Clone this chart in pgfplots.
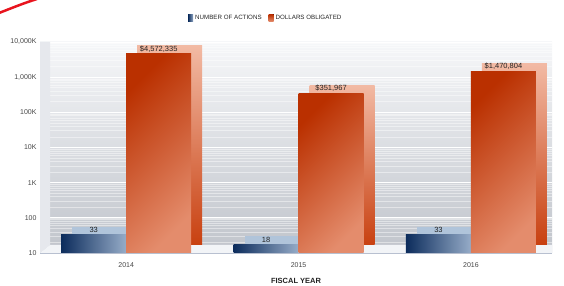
\documentclass[border=0pt]{standalone}
\usepackage{fontspec}
\setmainfont{Liberation Sans}
\usepackage{pgfplots}
\pgfplotsset{compat=1.18}
\definecolor{navy}{RGB}{12,44,92}
\definecolor{navyl}{RGB}{150,172,200}
\definecolor{navytop}{RGB}{176,196,218}
\definecolor{ordark}{RGB}{186,48,0}
\definecolor{orlight}{RGB}{228,140,108}
\definecolor{ortop}{RGB}{242,186,164}
\definecolor{orside}{RGB}{200,64,16}
\definecolor{wallt}{RGB}{246,247,249}
\definecolor{wallm}{RGB}{218,221,226}
\definecolor{wallb}{RGB}{192,196,203}
\definecolor{floorc}{RGB}{242,244,247}
\definecolor{leftw}{RGB}{230,232,237}
\definecolor{axl}{RGB}{184,192,208}
\definecolor{txt}{RGB}{70,70,70}
\definecolor{valtxt}{RGB}{35,35,35}
\definecolor{arcred}{RGB}{232,20,30}
\pgfplotsset{
  depthb/.style={ybar, bar width=0.377, bar shift=-0.1885, draw=none, fill=navytop, xshift=11pt, yshift=8pt, forget plot},
  deptho/.style={ybar, bar width=0.377, bar shift=0.1885, draw=none, top color=ortop, bottom color=orside, xshift=11pt, yshift=8pt, forget plot},
  frontb/.style={ybar, bar width=0.377, bar shift=-0.1885, draw=none, left color=navy, right color=navyl,
    legend image code/.code={\fill[left color=navy, right color=navyl] (0pt,-3.5pt) rectangle (5pt,3.5pt);}},
  fronto/.style={ybar, bar width=0.377, bar shift=0.1885, draw=none, top color=ordark, bottom color=orlight, shading angle=45,
    legend image code/.code={\fill[top color=ordark, bottom color=orlight] (0pt,-3.5pt) rectangle (5pt,3.5pt);}},
}
\begin{document}
\begin{tikzpicture}
\path[use as bounding box] (0,0) rectangle (564pt,286pt);
\draw[arcred, line width=2.5pt] (-1pt,273pt) .. controls (12pt,278pt) and (24pt,283pt) .. (37pt,287pt);
\begin{axis}[
  at={(40pt,33pt)}, anchor=south west,
  scale only axis, width=512pt, height=211pt,
  ymode=log, ymin=10, ymax=1e7, log origin=infty,
  xmin=-0.5, xmax=2.47,
  xtick={0,1,2}, xticklabels={2014,2015,2016},
  ytick={10,100,1000,10000,100000,1000000,10000000},
  yticklabels={10,100,1K,10K,100K,{1,000K},{10,000K}},
  major tick length=0pt, minor tick length=0pt,
  axis x line*=bottom, axis y line*=left,
  axis line style={axl, line width=0.8pt},
  axis background/.style={top color=wallt, middle color=wallm, bottom color=wallb},
  ymajorgrids, yminorgrids,
  major grid style={white, line width=0.9pt},
  minor grid style={white, opacity=0.45, line width=0.5pt},
  xticklabel style={font=\fontsize{7}{8}\selectfont, text=txt, yshift=-6pt},
  yticklabel style={font=\fontsize{7}{8}\selectfont, text=txt},
  xlabel={FISCAL YEAR},
  xlabel style={font=\bfseries\fontsize{7.5}{9}\selectfont, text=valtxt, at={(axis description cs:0.5,0)}, anchor=center, yshift=-28pt},
  legend style={at={(axis description cs:0.441,1)}, anchor=center, yshift=24pt, draw=none, fill=none,
    legend columns=2, font=\fontsize{6.2}{7}\selectfont, text=valtxt,
    /tikz/every even column/.append style={column sep=5pt}},
  legend cell align=left,
]
\fill[leftw] (rel axis cs:0,0) -- ([xshift=10pt,yshift=8pt]rel axis cs:0,0) -- ([xshift=10pt]rel axis cs:0,1) -- (rel axis cs:0,1) -- cycle;
\fill[floorc] (rel axis cs:0,0) -- ([xshift=10pt,yshift=8pt]rel axis cs:0,0) -- ([yshift=8pt]rel axis cs:1,0) -- (rel axis cs:1,0) -- cycle;
% depth (top/side faces), one bar each
\addplot[depthb] coordinates {(0,33)};
\addplot[depthb] coordinates {(1,18)};
\addplot[depthb] coordinates {(2,33)};
\addplot[deptho] coordinates {(0,4572335)};
\addplot[deptho] coordinates {(1,351967)};
\addplot[deptho] coordinates {(2,1470804)};
% front faces
\addplot[frontb] coordinates {(0,33)};
\addlegendentry{NUMBER OF ACTIONS}
\addplot[fronto] coordinates {(0,4572335)};
\addlegendentry{DOLLARS OBLIGATED}
\addplot[frontb, forget plot] coordinates {(1,18)};
\addplot[frontb, forget plot] coordinates {(2,33)};
\addplot[fronto, forget plot] coordinates {(1,351967)};
\addplot[fronto, forget plot] coordinates {(2,1470804)};
% value labels
\addplot[draw=none, forget plot, nodes near coords, point meta=explicit symbolic,
  nodes near coords style={font=\fontsize{7.5}{9}\selectfont, text=valtxt, anchor=center, yshift=4.5pt}]
  coordinates {(-0.1885,33) [33] (0.8115,18) [18] (1.8115,33) [33]};
\addplot[draw=none, forget plot, nodes near coords, point meta=explicit symbolic,
  nodes near coords style={font=\fontsize{7.5}{9}\selectfont, text=valtxt, anchor=center, yshift=5pt}]
  coordinates {(0.1885,4572335) [\$4,572,335] (1.1885,351967) [\$351,967] (2.1885,1470804) [\$1,470,804]};
\end{axis}
\end{tikzpicture}
\end{document}
